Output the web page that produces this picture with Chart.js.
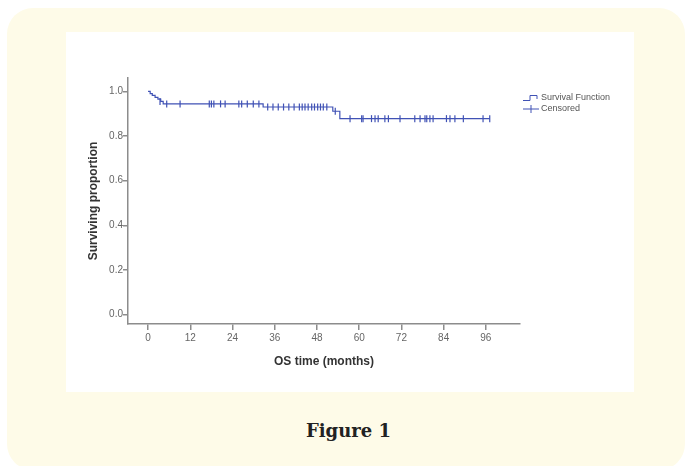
<!DOCTYPE html>
<html>
<head>
<meta charset="utf-8">
<script src="https://cdn.jsdelivr.net/npm/chart.js@4/dist/chart.umd.min.js"></script>
<style>
  body { margin: 0; background: #ffffff; width: 690px; height: 466px; overflow: hidden; position: relative; }
  #panel { position: absolute; left: 7px; top: 8px; width: 678px; height: 462px; background: #fefbe8; border-radius: 26px; }
  #plotBox { position: absolute; left: 66px; top: 32px; width: 568px; height: 360px; background: #ffffff; }
  #caption { position: absolute; left: 0; width: 697px; top: 418px; text-align: center;
    font-family: "DejaVu Serif", serif; font-weight: bold; font-size: 18px; color: #222; line-height: 26px; }
</style>
</head>
<body>
<div id="panel"></div>
<div id="plotBox"><canvas id="kmChart" width="568" height="360"></canvas></div>
<div id="caption">Figure 1</div>
<script>
// Kaplan-Meier step values (time in months, survival after the event)
const stepTimes  = [0, 0.6, 1.2, 2.0, 2.8, 3.6, 4.3, 32.7, 52.5, 54.5, 97.1];
const stepValues = [1.0, 0.99, 0.982, 0.973, 0.965, 0.955, 0.944, 0.930, 0.911, 0.878, 0.878];

// censored observations
const censorTimes = [3.4, 5.3, 9.1, 17.4, 18.0, 18.7, 20.6, 21.9, 25.8, 26.6, 28.2, 29.9, 31.5,
  34.0, 35.5, 37.0, 38.5, 40.0, 41.5, 43.0, 43.8, 44.6, 45.5, 46.5, 47.3, 48.2, 49.0, 49.8, 50.8,
  53.2,
  57.4, 60.7, 61.1, 63.5, 64.5, 65.4, 67.3, 68.3, 71.6, 75.8, 77.3, 78.7, 79.2, 80.1, 81.0,
  84.8, 85.8, 87.2, 89.6, 95.2, 97.1];
const censorValues = [0.955, 0.944, 0.944, 0.944, 0.944, 0.944, 0.944, 0.944, 0.944, 0.944, 0.944, 0.944, 0.944,
  0.930, 0.930, 0.930, 0.930, 0.930, 0.930, 0.930, 0.930, 0.930, 0.930, 0.930, 0.930, 0.930, 0.930, 0.930, 0.930,
  0.911,
  0.878, 0.878, 0.878, 0.878, 0.878, 0.878, 0.878, 0.878, 0.878, 0.878, 0.878, 0.878, 0.878, 0.878, 0.878,
  0.878, 0.878, 0.878, 0.878, 0.878, 0.878];

const xTicks = [0, 12, 24, 36, 48, 60, 72, 84, 96];
const yTicks = [0.0, 0.2, 0.4, 0.6, 0.8, 1.0];
const legendLabels = ['Survival Function', 'Censored'];

const lineColor = '#4052b5';
const axisColor = '#8c8c8c';
const tickFont = { family: 'Liberation Sans, Arial, sans-serif', size: 10 };
const titleFont = { family: 'Liberation Sans, Arial, sans-serif', size: 12, weight: 'bold' };

// legend drawn at the right of the plot, SPSS style
const kmLegend = {
    id: 'kmLegend',
    afterDraw(chart) {
        const ctx = chart.ctx;
        const x0 = 457, y1 = 66, y2 = 77;
        ctx.save();
        ctx.strokeStyle = lineColor;
        ctx.lineWidth = 1;
        ctx.beginPath();
        ctx.moveTo(x0, y1 + 2.5);
        ctx.lineTo(x0 + 7, y1 + 2.5);
        ctx.lineTo(x0 + 7, y1 - 2.5);
        ctx.lineTo(x0 + 14, y1 - 2.5);
        ctx.lineTo(x0 + 14, y1 + 1);
        ctx.stroke();
        ctx.beginPath();
        ctx.moveTo(x0, y2);
        ctx.lineTo(x0 + 16, y2);
        ctx.moveTo(x0 + 8, y2 - 4);
        ctx.lineTo(x0 + 8, y2 + 4);
        ctx.stroke();
        ctx.fillStyle = '#555';
        ctx.font = '9px "Liberation Sans", Arial, sans-serif';
        ctx.textBaseline = 'middle';
        ctx.fillText(legendLabels[0], x0 + 18, y1);
        ctx.fillText(legendLabels[1], x0 + 18, y2);
        ctx.restore();
    }
};

new Chart(document.getElementById('kmChart'), {
    type: 'line',
    data: {
        datasets: [{
            label: legendLabels[0],
            data: stepTimes.map((t, i) => ({ x: t, y: stepValues[i] })),
            stepped: 'before',
            borderColor: lineColor,
            borderWidth: 1.2,
            pointRadius: 0,
            fill: false
        }, {
            label: legendLabels[1],
            data: censorTimes.map((t, i) => ({ x: t, y: censorValues[i] })),
            showLine: false,
            pointStyle: 'line',
            rotation: 90,
            pointRadius: 3.5,
            borderColor: lineColor,
            borderWidth: 1.2
        }]
    },
    options: {
        responsive: false,
        animation: false,
        devicePixelRatio: 1,
        layout: { padding: { left: 0, top: 46, right: 114, bottom: 0 } },
        plugins: { legend: { display: false }, tooltip: { enabled: false } },
        scales: {
            x: {
                type: 'linear',
                min: -5.7,
                max: 105.7,
                afterBuildTicks: scale => { scale.ticks = xTicks.map(v => ({ value: v })); },
                afterFit: scale => { scale.height = 68; },
                grid: { display: true, drawOnChartArea: false, drawTicks: true, tickLength: 6, color: axisColor, lineWidth: 1.5 },
                border: { display: true, color: axisColor, width: 1.5 },
                ticks: { font: tickFont, color: '#666', padding: 2, maxRotation: 0 },
                title: { display: true, text: 'OS time (months)', font: titleFont, color: '#333', padding: { top: 4, bottom: 23 } }
            },
            y: {
                type: 'linear',
                min: -0.042,
                max: 1.06,
                afterBuildTicks: scale => { scale.ticks = yTicks.map(v => ({ value: v })); },
                afterFit: scale => { scale.width = 62; },
                grid: { display: true, drawOnChartArea: false, drawTicks: true, tickLength: 5, color: axisColor, lineWidth: 1.5 },
                border: { display: true, color: axisColor, width: 1.5 },
                ticks: { font: tickFont, color: '#666', padding: 0, callback: v => v.toFixed(1) },
                title: { display: true, text: 'Surviving proportion', font: titleFont, color: '#333', padding: { top: 20, bottom: 0 } }
            }
        }
    },
    plugins: [kmLegend]
});
</script>
</body>
</html>
